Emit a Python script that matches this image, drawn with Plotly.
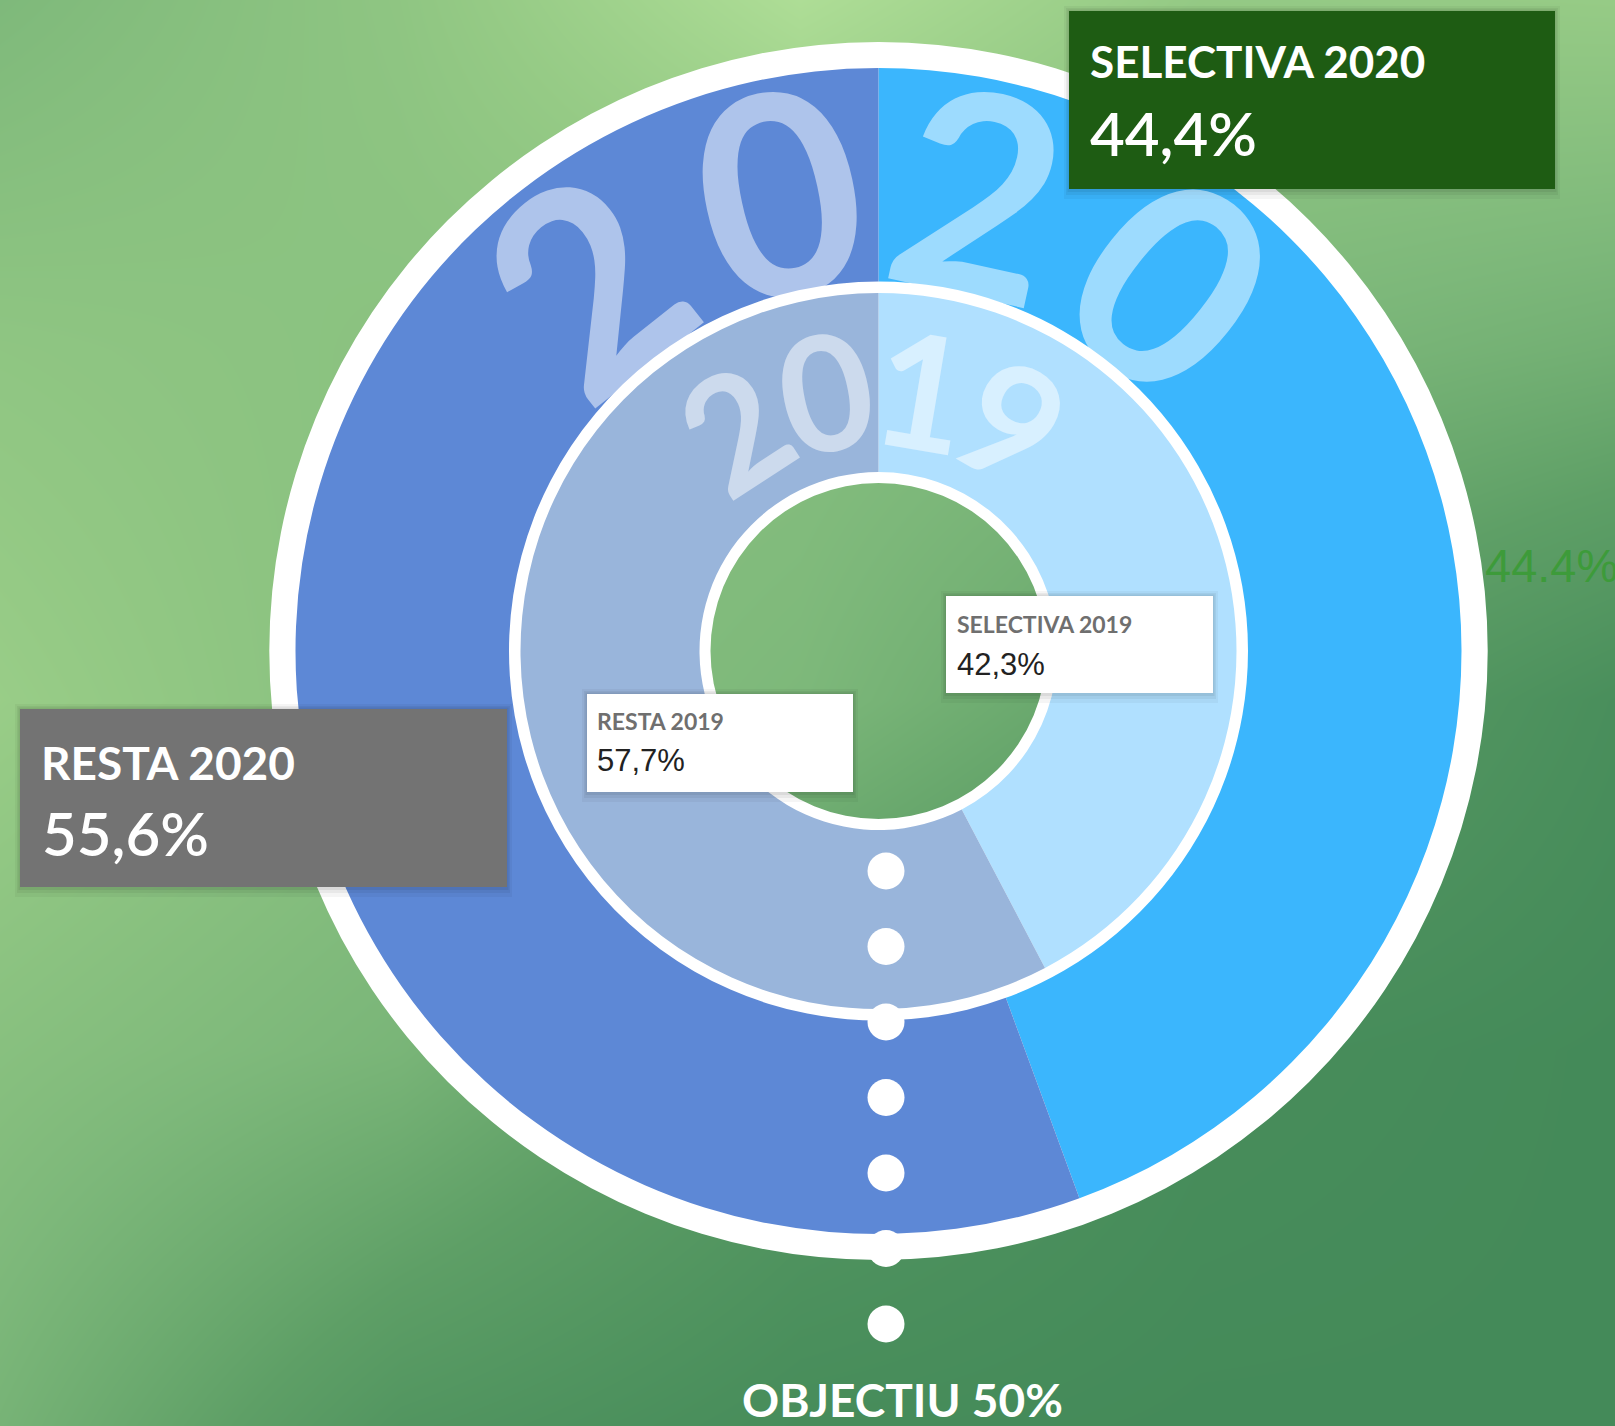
import math
import plotly.graph_objects as go

# Dades
categories_2020 = ['SELECTIVA 2020', 'RESTA 2020']
valors_2020 = [44.4, 55.6]
categories_2019 = ['SELECTIVA 2019', 'RESTA 2019']
valors_2019 = [42.3, 57.7]
objectiu = 50
etiqueta_any_ext = '2020'
etiqueta_any_int = '2019'

colors_2020 = ['#3BB6FD', '#5D88D6']
colors_2019 = ['#B0E0FF', '#99B5DB']

# Fons (degradat verd, només decoratiu)
fons_x = [0, 400, 800, 1200, 1615]
fons_y = [0, 350, 700, 1050, 1426]
fons_z = [
    [0.56, 0.70, 0.95, 0.74, 0.76],
    [0.70, 0.66, 0.62, 0.55, 0.46],
    [0.78, 0.64, 0.55, 0.30, 0.06],
    [0.64, 0.52, 0.22, 0.05, 0.00],
    [0.50, 0.16, 0.03, 0.00, 0.00],
]

W, H = 1615, 1426
CX, CY = 878.5, 651
R_BLANC, R_EXT, R_EXT_IN, R_MIG, R_MIG_IN, R_FORAT = 609, 583, 369.5, 358, 179, 168


def domini(r):
    return dict(x=[(CX - r) / W, (CX + r) / W],
                y=[1 - (CY + r) / H, 1 - (CY - r) / H])


def fmt(v):
    return f'{v:.1f}'.replace('.', ',') + '%'


fig = go.Figure()

fig.add_trace(go.Heatmap(
    x=fons_x, y=fons_y, z=fons_z, zsmooth='best', showscale=False, hoverinfo='skip',
    colorscale=[[0, '#448A59'], [0.3, '#5E9F66'], [0.55, '#7DB87A'],
                [0.75, '#95CA85'], [1, '#B4E29A']],
    zmin=0, zmax=1,
))

# Anells blancs
fig.add_trace(go.Pie(
    values=[1], marker=dict(colors=['white']), hole=R_FORAT / R_BLANC,
    domain=domini(R_BLANC), textinfo='none', hoverinfo='skip', showlegend=False, sort=False,
))

# Anell 2020
fig.add_trace(go.Pie(
    labels=categories_2020, values=valors_2020, marker=dict(colors=colors_2020),
    hole=R_EXT_IN / R_EXT, domain=domini(R_EXT), direction='clockwise', rotation=0,
    sort=False, textinfo='none', showlegend=False,
))

# Anell 2019
fig.add_trace(go.Pie(
    labels=categories_2019, values=valors_2019, marker=dict(colors=colors_2019),
    hole=R_MIG_IN / R_MIG, domain=domini(R_MIG), direction='clockwise', rotation=0,
    sort=False, textinfo='none', showlegend=False,
))

anotacions = []
formes = []


def xifres(text, radi, angles, mida):
    for ch, a in zip(text, angles):
        t = math.radians(a)
        anotacions.append(dict(
            x=CX + radi * math.sin(t), y=CY - radi * math.cos(t), xref='x', yref='y',
            text=ch, showarrow=False, textangle=a, xanchor='center', yanchor='middle',
            font=dict(family='Lato', size=mida, color='rgba(255,255,255,0.5)', weight=700),
        ))


xifres(etiqueta_any_ext, 474, [-38.5, -12.2, 12.4, 38.5], 280)
xifres(etiqueta_any_int, 267, [-33, -11.4, 9.5, 30.2], 160)

# Punts de l'objectiu
angle_obj = math.radians(objectiu / 100 * 360)
for k in range(7):
    r = 220 + k * 75.5
    px = CX + 7.5 + r * math.sin(angle_obj)
    py = CY - r * math.cos(angle_obj)
    formes.append(dict(type='circle', xref='x', yref='y', layer='above',
                       x0=px - 18.5, x1=px + 18.5, y0=py - 18.5, y1=py + 18.5,
                       fillcolor='white', line=dict(width=0)))


def caixa(x0, y0, x1, y1, color):
    for d, a in [(10, 0.04), (6, 0.05), (3, 0.06)]:
        formes.append(dict(type='rect', xref='x', yref='y', layer='above',
                           x0=x0 - d / 2, x1=x1 + d / 2, y0=y0 - d / 2, y1=y1 + d,
                           fillcolor=f'rgba(0,0,0,{a})', line=dict(width=0)))
    formes.append(dict(type='rect', xref='x', yref='y', layer='above',
                       x0=x0, x1=x1, y0=y0, y1=y1, fillcolor=color, line=dict(width=0)))


def text(x, y, s, mida, color, pes=400, familia='Lato'):
    anotacions.append(dict(x=x, y=y, xref='x', yref='y', text=s, showarrow=False,
                           xanchor='left', yanchor='middle',
                           font=dict(family=familia, size=mida, color=color, weight=pes)))


# Caixes 2020
caixa(1069, 11, 1555, 189, '#1E5C13')
text(1088, 61, categories_2020[0], 44, 'white', 700)
text(1088, 133, fmt(valors_2020[0]), 60, 'white', 600)

caixa(20, 709, 507, 887, '#737373')
text(39, 762, categories_2020[1], 46, 'white', 700)
text(40, 833, fmt(valors_2020[1]), 60, 'white', 600)

# Caixes 2019
caixa(946, 596, 1213, 693, 'white')
text(955, 624, categories_2019[0], 23, '#6F6F6F', 700)
text(955, 664, fmt(valors_2019[0]), 31, '#222222', 400, 'Liberation Sans, Arial')

caixa(587, 694, 853, 792, 'white')
text(595, 721, categories_2019[1], 23, '#6F6F6F', 700)
text(595, 760, fmt(valors_2019[1]), 31, '#222222', 400, 'Liberation Sans, Arial')

# Etiqueta exterior (tallada a la vora, com a l'original) i objectiu
text(1483, 565, f'{valors_2020[0]:.1f}%', 47, '#3D9B3A', 400, 'Liberation Sans, Arial')
anotacions.append(dict(x=902, y=1399, xref='x', yref='y', text=f'OBJECTIU {objectiu}%',
                       showarrow=False, xanchor='center', yanchor='middle',
                       font=dict(family='Lato', size=46, color='white', weight=700)))

fig.update_layout(
    width=W, height=H, margin=dict(l=0, r=0, t=0, b=0),
    paper_bgcolor='#6FAE70', plot_bgcolor='#6FAE70',
    xaxis=dict(range=[0, W], visible=False, fixedrange=True),
    yaxis=dict(range=[H, 0], visible=False, fixedrange=True),
    annotations=anotacions, shapes=formes, showlegend=False,
)

fig.write_html('out.html', config={'displayModeBar': False},
               post_script="document.body.style.margin='0px';")
